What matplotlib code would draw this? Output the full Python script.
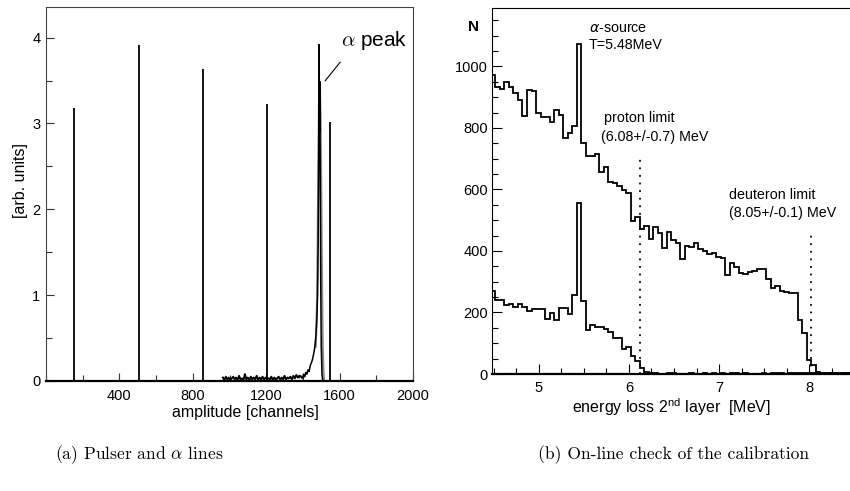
"""Two-panel detector calibration figure: pulser/alpha lines and on-line energy-loss check."""

import matplotlib
import matplotlib.pyplot as plt
import numpy as np
from matplotlib.ticker import FixedLocator, MultipleLocator

matplotlib.use("Agg")

# ---- panel (a): pulser and alpha lines ------------------------------------
pulser_ch = [151, 505, 858, 1204, 1549]
pulser_height = [3.18, 3.92, 3.63, 3.23, 3.02]

noise = [
    (964, 0.04), (972, 0.01), (980, 0.05), (988, 0.02), (996, 0.04), (1004, 0.01),
    (1012, 0.03), (1020, 0.05), (1028, 0.02), (1036, 0.04), (1044, 0.01), (1052, 0.06),
    (1060, 0.02), (1068, 0.03), (1076, 0.01), (1084, 0.08), (1092, 0.02), (1100, 0.04),
    (1108, 0.01), (1116, 0.05), (1124, 0.02), (1132, 0.04), (1140, 0.02), (1148, 0.06),
    (1156, 0.01), (1164, 0.04), (1172, 0.02), (1180, 0.05), (1188, 0.01), (1196, 0.04),
    (1212, 0.03), (1220, 0.02), (1228, 0.05), (1236, 0.01), (1244, 0.04), (1252, 0.02),
    (1260, 0.03), (1268, 0.05), (1276, 0.01), (1284, 0.04), (1292, 0.02), (1300, 0.06),
    (1308, 0.02), (1316, 0.04), (1324, 0.03), (1332, 0.05), (1340, 0.02), (1348, 0.06),
    (1356, 0.03), (1364, 0.07), (1372, 0.04), (1380, 0.06),
]

alpha_line = [
    (1380, 0.04), (1388, 0.06), (1396, 0.03), (1404, 0.08), (1410, 0.05), (1416, 0.10),
    (1422, 0.08), (1428, 0.13), (1434, 0.11), (1440, 0.18), (1446, 0.21), (1452, 0.25),
    (1458, 0.31), (1464, 0.38), (1468, 0.46), (1472, 0.56), (1476, 0.72), (1480, 1.00),
    (1483, 1.60), (1486, 2.60), (1488, 3.92), (1490, 2.90), (1492, 3.49), (1494, 2.60),
    (1497, 1.20), (1500, 0.40), (1504, 0.08), (1508, 0.0),
]

alpha_fit = [
    (1470, 0.40), (1476, 0.85), (1480, 1.50), (1484, 2.50), (1488, 3.30), (1492, 3.45),
    (1496, 3.10), (1500, 2.30), (1504, 1.20), (1508, 0.45), (1512, 0.10), (1516, 0.0),
]

# ---- panel (b): energy loss in 2nd layer, 0.05 MeV bins ---------------------
bin_start = 4.47
bin_width = 0.05

counts_all = [
    973, 933, 926, 951, 933, 913, 892, 840, 924, 919,
    848, 837, 837, 820, 859, 843, 767, 783, 807, 1072,
    751, 709, 709, 715, 658, 672, 624, 620, 610, 599,
    588, 498, 512, 471, 481, 438, 479, 460, 411, 463,
    436, 427, 373, 416, 412, 425, 406, 401, 390, 395,
    382, 376, 322, 362, 349, 330, 325, 333, 336, 340,
    342, 308, 278, 286, 270, 265, 263, 262, 176, 132,
    46, 29, 8, 3, 2, 3, 2, 2, 3, 2,
]

counts_selected = [
    269, 241, 241, 223, 226, 219, 228, 219, 204, 212,
    212, 210, 180, 198, 177, 215, 215, 196, 257, 556,
    237, 142, 158, 153, 153, 147, 137, 118, 118, 80,
    88, 58, 43, 18, 8, 3, 2, 1, 0, 2,
    2, 1, 0, 1, 2, 0, 1, 2, 1, 3,
    1, 2, 0, 2, 3, 1, 2, 1, 0, 1,
    2, 1, 3, 2, 2, 1, 2, 3, 2, 3,
    3, 2, 3, 2, 1, 2, 2, 1, 2, 2,
]

limit_energy = [6.12, 8.02]
limit_top = [707, 452]

plt.rcParams["font.family"] = ["Liberation Sans", "DejaVu Sans"]
plt.rcParams["mathtext.fontset"] = "custom"
plt.rcParams["mathtext.rm"] = "Liberation Sans"
plt.rcParams["mathtext.it"] = "Liberation Sans:italic"
plt.rcParams["mathtext.bf"] = "Liberation Sans:bold"

W, H = 850, 491


def fx(px):
    return px / W


def fy(py):
    return 1 - py / H


fig = plt.figure(figsize=(W / 100, H / 100), dpi=100)
ax_a = fig.add_axes([fx(46), fy(381), fx(413) - fx(46), fy(7) - fy(381)])
ax_b = fig.add_axes([fx(492), fy(374), 1 - fx(492), fy(8) - fy(374)])

# panel (a)
ax_a.vlines(pulser_ch, 0, pulser_height, color="black", lw=1.3)
nx, ny = zip(*noise)
ax_a.plot(nx, ny, color="black", lw=1.4)
fit_x, fit_y = zip(*alpha_fit)
ax_a.plot(fit_x, fit_y, color="#8a8a8a", lw=1.5)
al_x, al_y = zip(*alpha_line)
ax_a.plot(al_x, al_y, color="black", lw=1.1)
ax_a.annotate(
    "", xy=(1511, 3.47), xytext=(1613, 3.74),
    arrowprops=dict(arrowstyle="-", color="black", lw=0.8),
)
ax_a.text(1605, 3.97, r"$\alpha$ peak", fontsize=15, ha="left", va="center",
          math_fontfamily="cm")

ax_a.set_xlim(0, 2000)
ax_a.set_ylim(0, 4.357)
ax_a.xaxis.set_major_locator(FixedLocator([400, 800, 1200, 1600, 2000]))
ax_a.xaxis.set_minor_locator(MultipleLocator(200))
ax_a.yaxis.set_major_locator(MultipleLocator(1))
ax_a.yaxis.set_minor_locator(MultipleLocator(0.5))
ax_a.tick_params(which="both", direction="in", width=0.8, colors="#333333",
                 labelcolor="black", labelsize=10.5)
ax_a.tick_params(which="major", length=6)
ax_a.tick_params(which="minor", length=4)
ax_a.tick_params(axis="x", pad=6)
ax_a.tick_params(axis="y", pad=4)
for name, spine in ax_a.spines.items():
    spine.set_color("#444444")
    spine.set_linewidth(0.8)
ax_a.spines["bottom"].set_color("black")
ax_a.spines["bottom"].set_linewidth(1.6)

fig.text(fx(245), fy(412), "amplitude [channels]", fontsize=11.5, ha="center", va="center")
fig.text(fx(21), fy(181), "[arb. units]", fontsize=11.5, ha="center", va="center",
         rotation=90)

# panel (b)
edges = bin_start + bin_width * np.arange(len(counts_all) + 1)
ax_b.stairs(counts_all, edges, color="black", lw=1.3, baseline=None)
ax_b.stairs(counts_selected, edges, color="black", lw=1.3, baseline=None)
ax_b.vlines(limit_energy, 0, limit_top, color="black", lw=1.3,
            linestyles=[(0, (1.0, 3.2))])

ax_b.text(5.558, 1126, r"$\alpha$-source", fontsize=10.3, ha="left", va="center",
          math_fontfamily="dejavusans")
ax_b.text(5.558, 1071, "T=5.48MeV", fontsize=10.3, ha="left", va="center")
ax_b.text(5.724, 833, "proton limit", fontsize=10.3, ha="left", va="center")
ax_b.text(5.69, 771, "(6.08+/-0.7) MeV", fontsize=10.3, ha="left", va="center")
ax_b.text(7.11, 582, "deuteron limit", fontsize=10.3, ha="left", va="center")
ax_b.text(7.11, 524, "(8.05+/-0.1) MeV", fontsize=10.3, ha="left", va="center")

ax_b.set_xlim(4.482, 8.451)
ax_b.set_ylim(0, 1190)
ax_b.xaxis.set_major_locator(MultipleLocator(1))
ax_b.xaxis.set_minor_locator(MultipleLocator(0.25))
ax_b.yaxis.set_major_locator(MultipleLocator(200))
ax_b.yaxis.set_minor_locator(MultipleLocator(50))
ax_b.tick_params(which="both", direction="in", width=0.8, labelsize=10.5)
ax_b.tick_params(which="major", length=7)
ax_b.tick_params(which="minor", length=4)
ax_b.tick_params(axis="x", pad=5)
ax_b.tick_params(axis="y", pad=3)
ax_b.spines["right"].set_visible(False)
ax_b.spines["bottom"].set_linewidth(1.6)

fig.text(fx(473), fy(27), "N", fontsize=11, fontweight="bold", ha="center", va="center")
fig.text(fx(671), fy(407), r"energy loss 2$^{\mathrm{nd}}$ layer  [MeV]", fontsize=11.5,
         ha="center", va="center")

# captions
fig.text(fx(139), fy(455), r"(a) Pulser and $\alpha$ lines", family="cmr10",
         math_fontfamily="cm", fontsize=12.6, ha="center", va="center")
fig.text(fx(673), fy(455), "(b) On-line check of the calibration", family="cmr10",
         fontsize=12.6, ha="center", va="center")

fig.savefig("out.png", dpi=100)
